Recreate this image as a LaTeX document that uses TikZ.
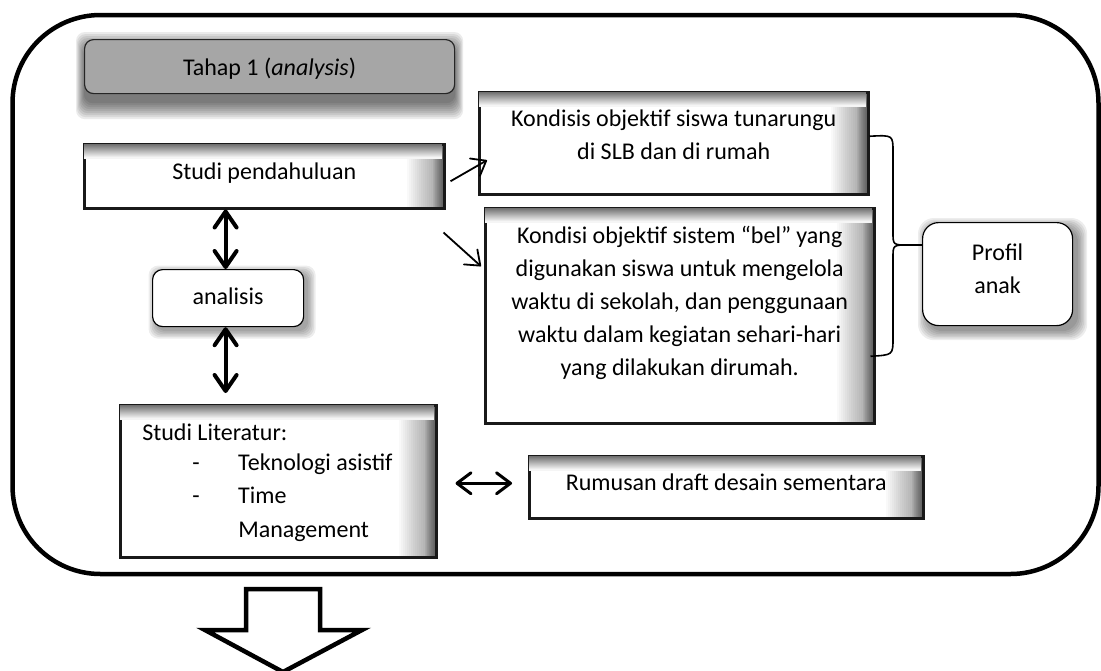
\documentclass[tikz,border=0pt]{standalone}
\usepackage{fontspec}
\setmainfont{Carlito}
\usetikzlibrary{arrows.meta,backgrounds}
\newcommand\firstbl[1]{\rule{0pt}{#1pt}}
% #1,#2 = top-left, #3,#4 = bottom-right (pixel coordinates, y downwards)
\newcommand\innershade[4]{%
  \fill[white] (#1,#2) rectangle (#3,#4);
  \foreach \k in {2,4,...,36}
    \fill[black, opacity=0.025] (#3-\k,#2) rectangle (#3,#4);
  \foreach \k in {1,2,...,10}
    \fill[black, opacity=0.04] (#3-\k,#2) rectangle (#3,#4);
}
\newcommand\topband[3]{%
  \foreach \k in {0,1,...,13}{%
    \pgfmathtruncatemacro\gv{56-4*\k}%
    \fill[black!\gv] (#1+1.2,#2+1.2+\k) rectangle (#3-1.2,#2+2.5+\k);
  }%
}
\begin{document}
\begin{tikzpicture}[x=1pt,y=-1pt,
  txt/.style={font=\fontsize{24}{33}\selectfont},
  shbox/.style={draw=black!90, line width=2.5pt, inner sep=0pt, anchor=north west, txt},
  rbox/.style={draw=black, line width=1.2pt, fill=white, rounded corners=10pt, inner sep=0pt, anchor=north west, txt},
  tbox/.style={draw=black!85, line width=1.2pt, fill=black!35, rounded corners=9pt, inner sep=0pt, anchor=north west, txt},
  bigdbl/.style={line width=4pt, {Straight Barb[length=16pt,width=22pt,round]}-{Straight Barb[length=16pt,width=22pt,round]}},
  hdbl/.style={line width=3pt, {Straight Barb[length=14pt,width=21pt,round]}-{Straight Barb[length=14pt,width=21pt,round]}},
  thinarr/.style={line width=1.8pt, -{Straight Barb[length=13pt,width=20pt,round]}},
  brace/.style={line width=1.6pt},
  frame/.style={line width=4.5pt, rounded corners=88pt},
  hollow/.style={draw, line width=4.5pt, fill=white, miter limit=10}
]
\useasboundingbox (0,0) rectangle (1101,670);

% outer frame
\draw[frame] (12.5,15) rectangle (1098.5,574);

% nodes
\node[tbox] (tahap) at (84,39) {\parbox[t][54pt][t]{370pt}{\centering\firstbl{36}Tahap 1 (\textit{analysis})}};
\node[shbox] (sp) at (83,143) {\parbox[t][64pt][t]{360pt}{\centering\firstbl{35}Studi pendahuluan}};
\node[rbox] (an) at (152,269) {\parbox[t][57pt][t]{151pt}{\centering\firstbl{35}analisis}};
\node[shbox] (sl) at (119,404) {\parbox[t][152pt][t]{316pt}{\raggedright\firstbl{35}\hspace*{22pt}Studi Literatur:\\[-3pt]
  \hspace*{72pt}\makebox[46pt][l]{-}Teknologi asistif\\
  \hspace*{72pt}\makebox[46pt][l]{-}Time\\[1pt]
  \hspace*{118pt}Management}};
\node[shbox] (k1) at (478,91) {\parbox[t][102pt][t]{389pt}{\centering\firstbl{34}Kondisis objektif siswa tunarungu\\ di SLB dan di rumah}};
\node[shbox] (k2) at (484,207) {\parbox[t][215pt][t]{389pt}{\centering\firstbl{35}Kondisi objektif sistem “bel” yang\\ digunakan siswa untuk mengelola\\ waktu di sekolah, dan penggunaan\\ waktu dalam kegiatan sehari-hari\\ yang dilakukan dirumah.}};
\node[rbox, rounded corners=16pt] (pa) at (922,222) {\parbox[t][103pt][t]{150pt}{\centering\firstbl{38}Profil\\ anak}};
\node[shbox] (rd) at (528,455) {\parbox[t][62pt][t]{394pt}{\centering\firstbl{34}Rumusan draft desain sementara}};

% shadows and inner shading
\begin{scope}[on background layer]
  \foreach \k in {0,2,...,16}
    \fill[black, opacity=0.08, rounded corners=9pt]
      ([xshift={-0.5*\k pt}, yshift={-9pt-\k pt}]tahap.south west) rectangle ([xshift={0.5*\k pt}, yshift={\k pt-9pt}]tahap.north east);
  \foreach \k in {0,1.5,...,7.5}
    \fill[black, opacity=0.07, rounded corners=10pt]
      ([xshift={4pt-\k pt}, yshift={-4pt-\k pt}]an.south west) rectangle ([xshift={4pt+\k pt}, yshift={\k pt-4pt}]an.north east);
  \foreach \k in {0,1.5,...,9}
    \fill[black, opacity=0.07, rounded corners=16pt]
      ([xshift={5pt-\k pt}, yshift={-5pt-\k pt}]pa.south west) rectangle ([xshift={5pt+\k pt}, yshift={\k pt-5pt}]pa.north east);
  \innershade{83}{143}{443}{207}
  \innershade{119}{404}{435}{556}
  \innershade{478}{91}{867}{193}
  \innershade{484}{207}{873}{422}
  \innershade{528}{455}{922}{517}
\end{scope}

% top inner shading (opaque gray bands on main layer)
\topband{83}{143}{443}
\topband{119}{404}{435}
\topband{478}{91}{867}
\topband{484}{207}{873}
\topband{528}{455}{922}

% vertical double arrows
\coordinate (a1) at ([xshift=-2.5pt]an.north);
\draw[bigdbl] (a1 |- sp.south) -- (a1);
\coordinate (a2) at ([xshift=-2.5pt]an.south);
\path (a2 |- sl.north) ++(0,-11) coordinate (a3);
\draw[bigdbl] (a2) -- (a3);

% thin arrows to conditions
\coordinate (s1) at ([xshift=5pt,yshift=-5pt]sp.east);
\coordinate (e1) at ([xshift=9pt,yshift=-17pt]k1.west);
\draw[thinarr] (s1) -- (e1);
\coordinate (s2) at ([xshift=-2pt,yshift=-23pt]sp.south east);
\coordinate (e2) at ([xshift=-3pt,yshift=49.5pt]k2.west);
\draw[thinarr] (s2) -- (e2);

% horizontal double arrow
\coordinate (h1) at ([xshift=18pt,yshift=-2pt]sl.east);
\coordinate (h2) at ([xshift=-16pt,yshift=4pt]rd.west);
\draw[hdbl] (h1) -- (h2);

% brace
\coordinate (bt) at ([yshift=7pt]k1.east);
\coordinate (bb) at ([xshift=-5pt,yshift=-40.5pt]k2.east);
\coordinate (bm) at (908,245);
\draw[brace] (bt) .. controls (893,135) .. (893,152) -- (893,232) .. controls (893,245) .. (bm);
\draw[brace] (bm) .. controls (893,245) .. (893,258) -- (893,338) .. controls (893,355) .. (bb);
\draw[brace] (bm) -- (pa.west |- bm);

% big hollow arrow
\draw[hollow] (246,589) -- (320,589) -- (320,630) -- (362,630) -- (283,672) -- (205,630) -- (246,630) -- cycle;
\end{tikzpicture}
\end{document}
